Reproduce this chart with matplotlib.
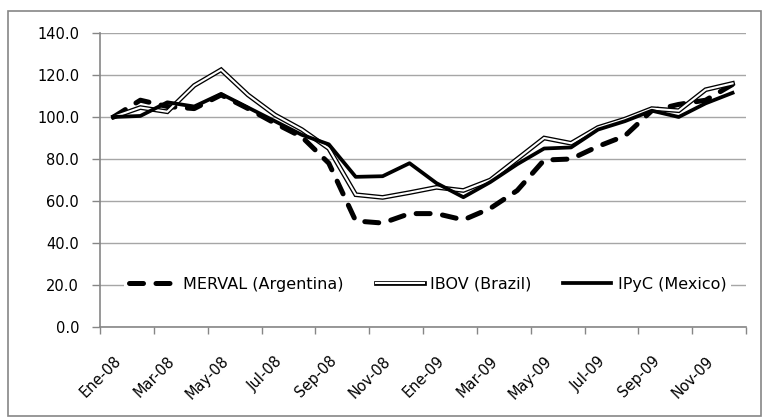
"""
Indices bursátiles latinoamericanos (base Ene-08 = 100)
MERVAL, IBOV e IPyC, mensual Ene-08 a Dic-09.
"""

import matplotlib
matplotlib.use("Agg")
import matplotlib.pyplot as plt
from matplotlib.lines import Line2D
from matplotlib.legend_handler import HandlerTuple
from matplotlib.patches import Rectangle

months = ["Ene-08", "Feb-08", "Mar-08", "Abr-08", "May-08", "Jun-08",
          "Jul-08", "Ago-08", "Sep-08", "Oct-08", "Nov-08", "Dic-08",
          "Ene-09", "Feb-09", "Mar-09", "Abr-09", "May-09", "Jun-09",
          "Jul-09", "Ago-09", "Sep-09", "Oct-09", "Nov-09", "Dic-09"]

merval = [100, 108, 105, 104, 110.5, 104, 97, 90.5, 78, 50.5, 49.5, 54,
          54, 51, 56.5, 65, 79.5, 80, 86, 91, 103, 106, 108, 115.5]
ibov = [100, 104.5, 102.5, 115, 122.5, 110.5, 101, 94, 85, 63, 61.7, 64,
        66.5, 65, 70, 80, 90, 87.5, 95, 99, 104, 103, 113, 116]
ipyc = [100, 100.5, 107, 105, 111, 104.5, 98, 91.5, 87, 71.5, 71.8, 78,
        68.5, 61.8, 69, 77.5, 85, 85.5, 94, 98, 103, 100, 106.5, 111.5]

labels_shown = months[::2]

plt.rcParams["font.family"] = ["DejaVu Sans"]
plt.rcParams["font.size"] = 10.5

W, H = 764, 419
fig = plt.figure(figsize=(W / 100, H / 100), dpi=100)
ax = fig.add_axes([100 / W, 1 - 327 / H, 646 / W, 294 / H])

GRID = "#a6a6a6"
AXIS = "#868686"
x = list(range(len(months)))

# series, same drawing order as the spreadsheet
merval_style = dict(color="black", lw=3.6, linestyle=(0, (2.8, 2.5)),
                    dash_capstyle="round", solid_capstyle="round")
ax.plot(x, merval, **merval_style, zorder=3)
ax.plot(x, ibov, color="black", lw=3.4, solid_joinstyle="miter", zorder=4)
ax.plot(x, ibov, color="white", lw=1.5, solid_joinstyle="miter", zorder=5)
ax.plot(x, ipyc, color="black", lw=2.7, solid_joinstyle="round", zorder=6)

ax.set_xlim(-0.5, len(months) - 0.5)
ax.set_ylim(0, 140)
ax.set_yticks(range(0, 141, 20))
ax.set_yticklabels([f"{v:.1f}" for v in range(0, 141, 20)])
ax.yaxis.grid(True, color=GRID, lw=1.0)
ax.set_axisbelow(True)

ax.set_xticks(x[::2])
ax.set_xticklabels(labels_shown, rotation=45, ha="right", va="top",
                   rotation_mode="anchor")
ax.set_xticks([i - 0.5 for i in range(0, len(months) + 1, 2)], minor=True)
ax.tick_params(axis="x", which="major", length=0, pad=19)
ax.tick_params(axis="x", which="minor", length=5, color=AXIS, width=1)
ax.tick_params(axis="y", length=6, color=AXIS, width=1, pad=9)

for side in ("top", "right"):
    ax.spines[side].set_visible(False)
for side in ("left", "bottom"):
    ax.spines[side].set_color(AXIS)
    ax.spines[side].set_linewidth(1.2)

h_merval = Line2D([], [], **merval_style)
h_ibov = (Line2D([], [], color="black", lw=3.4),
          Line2D([], [], color="white", lw=1.5))
h_ipyc = Line2D([], [], color="black", lw=2.7)
leg = ax.legend([h_merval, h_ibov, h_ipyc],
                ["MERVAL (Argentina)", "IBOV (Brazil)", "IPyC (Mexico)"],
                handler_map={tuple: HandlerTuple(ndivide=1, pad=0)},
                loc="center", bbox_to_anchor=(0.507, 0.146), ncol=3,
                frameon=True, fancybox=False, handlelength=3.0,
                handletextpad=0.4, columnspacing=2.0, borderpad=0.3,
                fontsize=11.5)
leg.get_frame().set_edgecolor("none")
leg.get_frame().set_facecolor("white")
leg.get_frame().set_alpha(1)

# chart area border
fig.patches.append(Rectangle((8 / W, 1 - 416 / H), 753 / W, 405 / H,
                             transform=fig.transFigure, fill=False,
                             edgecolor=AXIS, lw=1.2))

fig.savefig("out.png", dpi=100)
